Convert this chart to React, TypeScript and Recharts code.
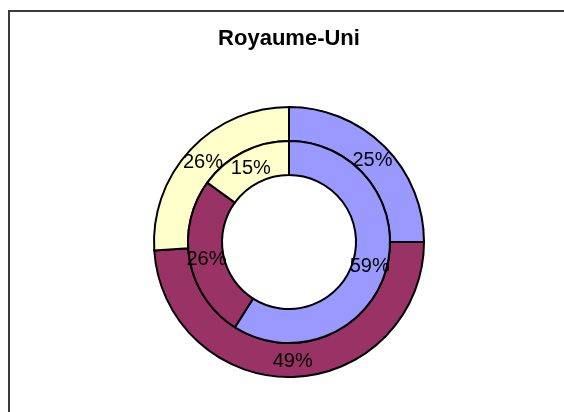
import { PieChart, Pie, Cell } from "recharts";

const categories = ["Catégorie 1", "Catégorie 2", "Catégorie 3"];
const outerValues = [25, 49, 26];
const innerValues = [59, 26, 15];
const colors = ["#9999FF", "#993366", "#FFFFCC"];

const outerData = categories.map((name, i) => ({ name, value: outerValues[i] }));
const innerData = categories.map((name, i) => ({ name, value: innerValues[i] }));

const RAD = Math.PI / 180;

function renderLabel(props: any) {
  const { cx, cy, midAngle, innerRadius, outerRadius, percent } = props;
  const r = (innerRadius + outerRadius) / 2;
  const x = cx + r * Math.cos(-midAngle * RAD);
  const y = cy + r * Math.sin(-midAngle * RAD);
  return (
    <text
      x={x}
      y={y}
      fill="#000"
      fontSize={20}
      fontFamily="Liberation Sans, Arial, sans-serif"
      textAnchor="middle"
      dominantBaseline="central"
    >
      {`${Math.round(percent * 100)}%`}
    </text>
  );
}

export default function App() {
  return (
    <div style={{ position: "relative", width: 548, height: 396 }}>
      <div
        style={{
          position: "fixed",
          left: 8,
          top: 10,
          width: 700,
          height: 700,
          borderTop: "2px solid #3a3a3a",
          borderLeft: "2px solid #3a3a3a",
        }}
      />
      <div
        style={{
          position: "absolute",
          left: 0,
          width: 562,
          top: 19,
          textAlign: "center",
          fontFamily: "Liberation Sans, Arial, sans-serif",
          fontWeight: "bold",
          fontSize: 22,
          lineHeight: "22px",
          color: "#000",
          whiteSpace: "nowrap",
        }}
      >
        Royaume-Uni
      </div>
      <div style={{ position: "absolute", left: 0, top: 0 }}>
        <PieChart width={548} height={396} margin={{ top: 0, right: 0, bottom: 0, left: 0 }}>
          <Pie
            data={outerData}
            dataKey="value"
            cx={281}
            cy={234}
            innerRadius={101}
            outerRadius={135}
            startAngle={90}
            endAngle={-270}
            stroke="#000"
            strokeWidth={2}
            label={renderLabel}
            labelLine={false}
            isAnimationActive={false}
          >
            {outerData.map((d, i) => (
              <Cell key={d.name} fill={colors[i]} />
            ))}
          </Pie>
          <Pie
            data={innerData}
            dataKey="value"
            cx={281}
            cy={234}
            innerRadius={67}
            outerRadius={101}
            startAngle={90}
            endAngle={-270}
            stroke="#000"
            strokeWidth={2}
            label={renderLabel}
            labelLine={false}
            isAnimationActive={false}
          >
            {innerData.map((d, i) => (
              <Cell key={d.name} fill={colors[i]} />
            ))}
          </Pie>
        </PieChart>
      </div>
    </div>
  );
}
